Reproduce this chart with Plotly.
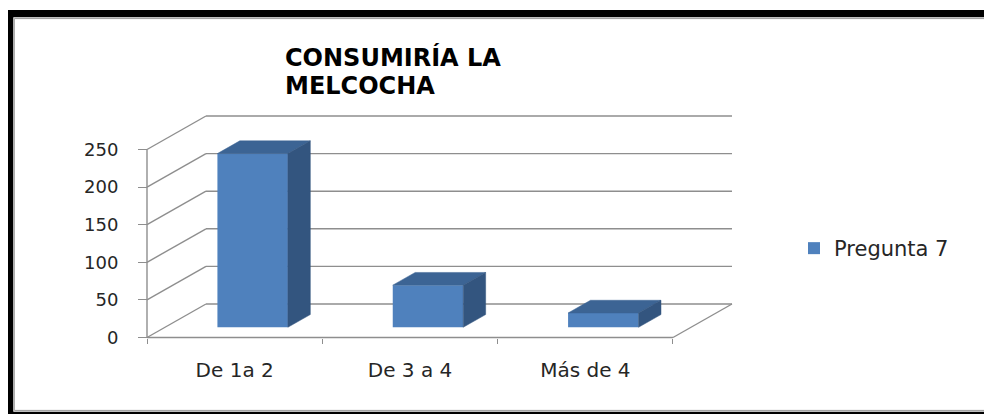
import plotly.graph_objects as go

# ---------------- data ----------------
categories = ["De 1a 2", "De 3 a 4", "Más de 4"]
values = [231, 56, 19]
series_name = "Pregunta 7"
y_tick_values = [0, 50, 100, 150, 200, 250]
y_tick_labels = ["0", "50", "100", "150", "200", "250"]
title_lines = ["CONSUMIRÍA LA", "MELCOCHA"]

# ---------------- layout geometry / styles ----------------
FONT = "DejaVu Sans"
OFF = 8                      # page body margin of the html page
W, H = 992 - OFF, 414 - OFF
ML, MR, MT, MB = 130, 249, 104, 70
PW = W - ML - MR
PH = H - MT - MB
ORIGIN_X_PX, ORIGIN_Y_PX = 147 - OFF, 337.5 - OFF   # figure pixel of data point (0, 0)
KX = 175.33                                # px per category unit
KY = 188 / 250                             # px per value unit
XMIN = -(ORIGIN_X_PX - ML) / KX
XMAX = XMIN + PW / KX
YMIN = -((H - MB) - ORIGIN_Y_PX) / KY
YMAX = YMIN + PH / KY

DX = 59 / KX        # oblique depth offset in category units
DY = 33.5 / KY      # oblique depth offset in value units
D0 = 0.305          # depth position of bar front face
DD = 0.38           # bar depth fraction
BAR_W = 0.402

GRID = "#8E8E8E"
FRONT = "#4F81BD"
TOP = "#3C6494"
SIDE = "#33557F"
TXT = "#262626"


def px2x(px):
    """window pixel x -> paper x"""
    return (px - OFF - ML) / PW


def px2y(py):
    """window pixel y -> paper y"""
    return ((H - MB) - (py - OFF)) / PH


n = len(categories)
ymax_tick = max(y_tick_values)

shapes = []
# back wall and side wall gridlines
for t in y_tick_values:
    shapes.append(dict(type="line", xref="x", yref="y", x0=DX, y0=t + DY, x1=n + DX, y1=t + DY,
                       line=dict(color=GRID, width=1.4), layer="below"))
    shapes.append(dict(type="line", xref="x", yref="y", x0=0, y0=t, x1=DX, y1=t + DY,
                       line=dict(color=GRID, width=1.4), layer="below"))
# floor front edge, floor right edge, front value axis
shapes.append(dict(type="line", xref="x", yref="y", x0=0, y0=0, x1=n, y1=0,
                   line=dict(color=GRID, width=1.4), layer="below"))
shapes.append(dict(type="line", xref="x", yref="y", x0=n, y0=0, x1=n + DX, y1=DY,
                   line=dict(color=GRID, width=1.4), layer="below"))
shapes.append(dict(type="line", xref="x", yref="y", x0=0, y0=0, x1=0, y1=ymax_tick,
                   line=dict(color=GRID, width=1.4), layer="below"))

# outer frame
shapes.append(dict(type="rect", xref="paper", yref="paper",
                   x0=px2x(9.65), x1=px2x(995.5), y0=px2y(13.65), y1=px2y(415.5),
                   line=dict(color="black", width=7.3), fillcolor="rgba(0,0,0,0)", layer="above"))
shapes.append(dict(type="rect", xref="paper", yref="paper",
                   x0=px2x(14.3), x1=px2x(990.6), y0=px2y(18.6), y1=px2y(410.4),
                   line=dict(color="#9A9A9A", width=1), fillcolor="rgba(0,0,0,0)", layer="above"))

fig = go.Figure()

b0 = D0 * DY
xoff = D0 * DX
centers = [i + 0.5 + xoff for i in range(n)]

fig.add_trace(go.Bar(x=centers, y=values, base=b0, width=BAR_W, name=series_name,
                     marker=dict(color=FRONT, line=dict(width=0)), hoverinfo="skip"))

ddx, ddy = DD * DX, DD * DY
for cx, v in zip(centers, values):
    xl, xr = cx - BAR_W / 2, cx + BAR_W / 2
    top = b0 + v
    fig.add_trace(go.Scatter(x=[xl, xr, xr + ddx, xl + ddx, xl],
                             y=[top, top, top + ddy, top + ddy, top],
                             fill="toself", fillcolor=TOP, mode="lines",
                             line=dict(color=TOP, width=0.5), showlegend=False, hoverinfo="skip"))
    fig.add_trace(go.Scatter(x=[xr, xr + ddx, xr + ddx, xr, xr],
                             y=[b0, b0 + ddy, top + ddy, top, b0],
                             fill="toself", fillcolor=SIDE, mode="lines",
                             line=dict(color=SIDE, width=0.5), showlegend=False, hoverinfo="skip"))

annotations = [
    dict(text=title_lines[0], xref="paper", yref="paper", x=px2x(283), y=px2y(57.9),
         xanchor="left", yanchor="middle", showarrow=False,
         font=dict(family=FONT, size=24, color="black", weight="bold")),
    dict(text=title_lines[1], xref="paper", yref="paper", x=px2x(283), y=px2y(85.8),
         xanchor="left", yanchor="middle", showarrow=False,
         font=dict(family=FONT, size=24, color="black", weight="bold")),
]

fig.update_layout(
    width=W, height=H,
    margin=dict(l=ML, r=MR, t=MT, b=MB, pad=0),
    paper_bgcolor="white", plot_bgcolor="white",
    shapes=shapes, annotations=annotations,
    hovermode=False,
    showlegend=True,
    legend=dict(x=px2x(794), y=px2y(248.5), xanchor="left", yanchor="middle",
                font=dict(family=FONT, size=21, color=TXT), bgcolor="rgba(0,0,0,0)"),
    xaxis=dict(range=[XMIN, XMAX], showgrid=False, zeroline=False, showline=False,
               tickmode="array", tickvals=[i + 0.5 for i in range(n)], ticktext=categories,
               ticks="", tickfont=dict(family=FONT, size=20, color=TXT),
               anchor="free", position=((H - MB) - ORIGIN_Y_PX) / PH, ticklabelstandoff=18,
               minor=dict(tickmode="array", tickvals=list(range(n + 1)), ticks="outside",
                          ticklen=5, tickcolor=GRID, tickwidth=1.4, showgrid=False),
               fixedrange=True),
    yaxis=dict(range=[YMIN, YMAX], showgrid=False, zeroline=False, showline=False,
               tickmode="array", tickvals=y_tick_values, ticktext=y_tick_labels,
               ticks="outside", ticklen=9, tickcolor=GRID, tickwidth=1.4,
               tickfont=dict(family=FONT, size=18, color=TXT),
               anchor="free", position=(ORIGIN_X_PX - ML) / PW, ticklabelstandoff=16,
               fixedrange=True),
)

fig.write_html("out.html")
